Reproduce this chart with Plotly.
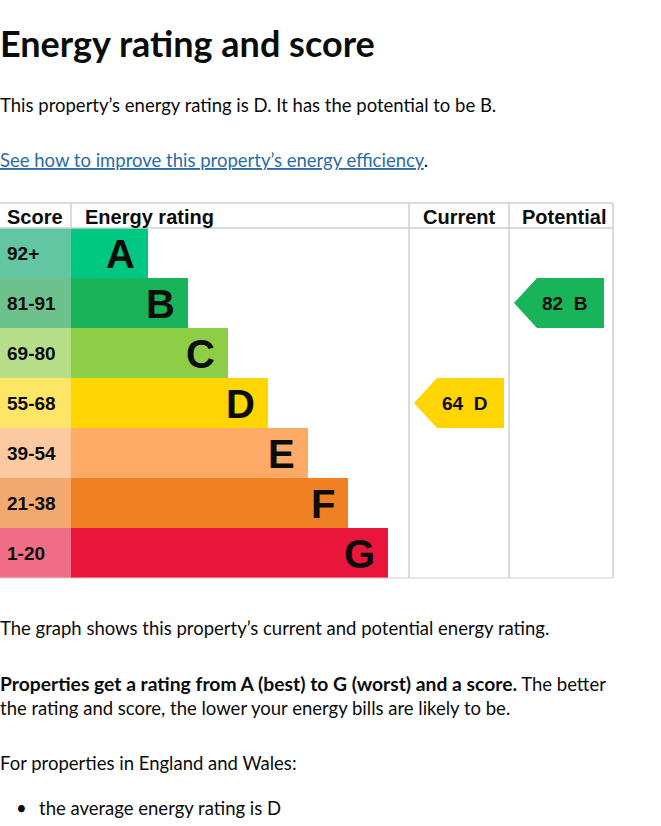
import plotly.graph_objects as go

# EPC bands, top (best) to bottom (worst)
bands = ["A", "B", "C", "D", "E", "F", "G"]
score_ranges = ["92+", "81-91", "69-80", "55-68", "39-54", "21-38", "1-20"]
band_lower = [92, 81, 69, 55, 39, 21, 1]
bar_lengths = [77, 117, 157, 197, 237, 277, 317]
bar_colours = ["#00c781", "#19b459", "#8dce46", "#ffd500", "#fcaa65", "#ef8023", "#e9153b"]
score_colours = ["#62c6a3", "#6cc18d", "#b6de89", "#ffe566", "#fdc9a0", "#f3a96e", "#f06d87"]

current_score = 64
potential_score = 82

headers = ["Score", "Energy rating", "Current", "Potential"]

# page geometry (pixels)
W, H = 661, 826
TABLE_TOP, HEAD_BOTTOM, ROW_H = 203, 228, 50
SCORE_W = 71
COL_CUR = (409, 509)
COL_POT = (509, 613)
ARROW_W = 90

BODY = "Lato, 'Noto Sans', sans-serif"
ARIAL = "Arial, 'Liberation Sans', sans-serif"


def band_of(score):
    for i, low in enumerate(band_lower):
        if score >= low:
            return i
    return len(bands) - 1


row_centres = [HEAD_BOTTOM + ROW_H * i + ROW_H / 2 for i in range(len(bands))]

fig = go.Figure()

# score column cells
fig.add_trace(go.Bar(
    y=row_centres, x=[SCORE_W] * len(bands), base=0, orientation="h",
    width=ROW_H, marker=dict(color=score_colours, line=dict(width=0)),
    hoverinfo="skip", showlegend=False,
))

# rating bars
fig.add_trace(go.Bar(
    y=row_centres, x=bar_lengths, base=SCORE_W, orientation="h",
    width=ROW_H, marker=dict(color=bar_colours, line=dict(width=0)),
    hoverinfo="skip", showlegend=False,
))

annotations = []

for i, band in enumerate(bands):
    annotations.append(dict(
        x=5, y=row_centres[i], text="<b>%s</b>" % score_ranges[i], xanchor="left", yanchor="middle",
        font=dict(family=ARIAL, size=19, color="#0b0c0c"), showarrow=False,
    ))
    annotations.append(dict(
        x=SCORE_W + bar_lengths[i] - 11, y=row_centres[i] + 1, text="<b>%s</b>" % band,
        xanchor="right", yanchor="middle",
        font=dict(family=ARIAL, size=40, color="#0b0c0c"), showarrow=False,
    ))

# current / potential arrows
for score, (left, right) in [(current_score, COL_CUR), (potential_score, COL_POT)]:
    i = band_of(score)
    top = HEAD_BOTTOM + ROW_H * i
    bottom = top + ROW_H
    mid = row_centres[i]
    tip = left + 5
    end = tip + ARROW_W
    fig.add_trace(go.Scatter(
        x=[tip, tip + 23, end, end, tip + 23, tip],
        y=[mid, top, top, bottom, bottom, mid],
        fill="toself", fillcolor=bar_colours[i], mode="lines",
        line=dict(width=0, color=bar_colours[i]),
        hoverinfo="skip", showlegend=False,
    ))
    annotations.append(dict(
        x=tip + 26, y=mid, text="<b>%d\u00a0 %s</b>" % (score, bands[i]),
        xanchor="left", yanchor="middle",
        font=dict(family=ARIAL, size=19, color="#0b0c0c"), showarrow=False,
    ))

# header row
head_y = (TABLE_TOP + HEAD_BOTTOM) / 2 + 1
head_pos = [(5, "left"), (SCORE_W + 12, "left"),
            (sum(COL_CUR) / 2, "center"), (sum(COL_POT) / 2 + 3, "center")]
for label, (hx, anchor) in zip(headers, head_pos):
    annotations.append(dict(
        x=hx, y=head_y, text="<b>%s</b>" % label, xanchor=anchor, yanchor="middle",
        font=dict(family=ARIAL, size=20, color="#0b0c0c"), showarrow=False,
    ))

# table lines
grid = "#cfcfcf"
table_bottom = HEAD_BOTTOM + ROW_H * len(bands)
shapes = [
    dict(type="line", x0=0, x1=COL_POT[1], y0=TABLE_TOP, y1=TABLE_TOP, line=dict(color=grid, width=1.5)),
    dict(type="line", x0=0, x1=COL_POT[1], y0=HEAD_BOTTOM, y1=HEAD_BOTTOM, line=dict(color=grid, width=1.5)),
    dict(type="line", x0=0, x1=COL_POT[1], y0=table_bottom, y1=table_bottom, line=dict(color=grid, width=1.2)),
    dict(type="line", x0=SCORE_W, x1=SCORE_W, y0=TABLE_TOP, y1=HEAD_BOTTOM, line=dict(color=grid, width=1.5)),
]
for vx in [COL_CUR[0], COL_POT[0], COL_POT[1]]:
    shapes.append(dict(type="line", x0=vx, x1=vx, y0=TABLE_TOP, y1=table_bottom,
                       line=dict(color=grid, width=1.5)))

# page text
text_lines = [
    (0, 43, "<b>Energy rating and score</b>", 36),
    (0, 105, "This property\u2019s energy rating is D. It has the potential to be B.", 18.5),
    (0, 160, "<span style='color:#2a6ba6'><u>See how to improve this property\u2019s energy efficiency</u></span>.", 18.5),
    (0, 628, "The graph shows this property\u2019s current and potential energy rating.", 18.5),
    (0, 683, "<span style='font-size:19.3px'><b>Properties get a rating from A (best) to G (worst) and a score.</b></span> The better", 18.5),
    (0, 708, "the rating and score, the lower your energy bills are likely to be.", 18.5),
    (0, 763, "For properties in England and Wales:", 18.5),
    (39, 808, "the average energy rating is D", 18.5),
    (16, 808, "\u2022", 18.5),
]
for tx, ty, txt, size in text_lines:
    annotations.append(dict(
        x=tx, y=ty, xshift=-2, text=txt, xanchor="left", yanchor="middle",
        font=dict(family=BODY, size=size, color="#0b0c0c"), showarrow=False,
    ))

fig.update_layout(
    width=W, height=H,
    margin=dict(l=0, r=0, t=0, b=0),
    paper_bgcolor="white", plot_bgcolor="white",
    xaxis=dict(range=[0, W], visible=False, fixedrange=True),
    yaxis=dict(range=[H, 0], visible=False, fixedrange=True),
    bargap=0, barmode="overlay",
    shapes=shapes, annotations=annotations,
)

fig.write_html("out.html", config={"displayModeBar": False},
               post_script="document.body.style.margin='0';")
